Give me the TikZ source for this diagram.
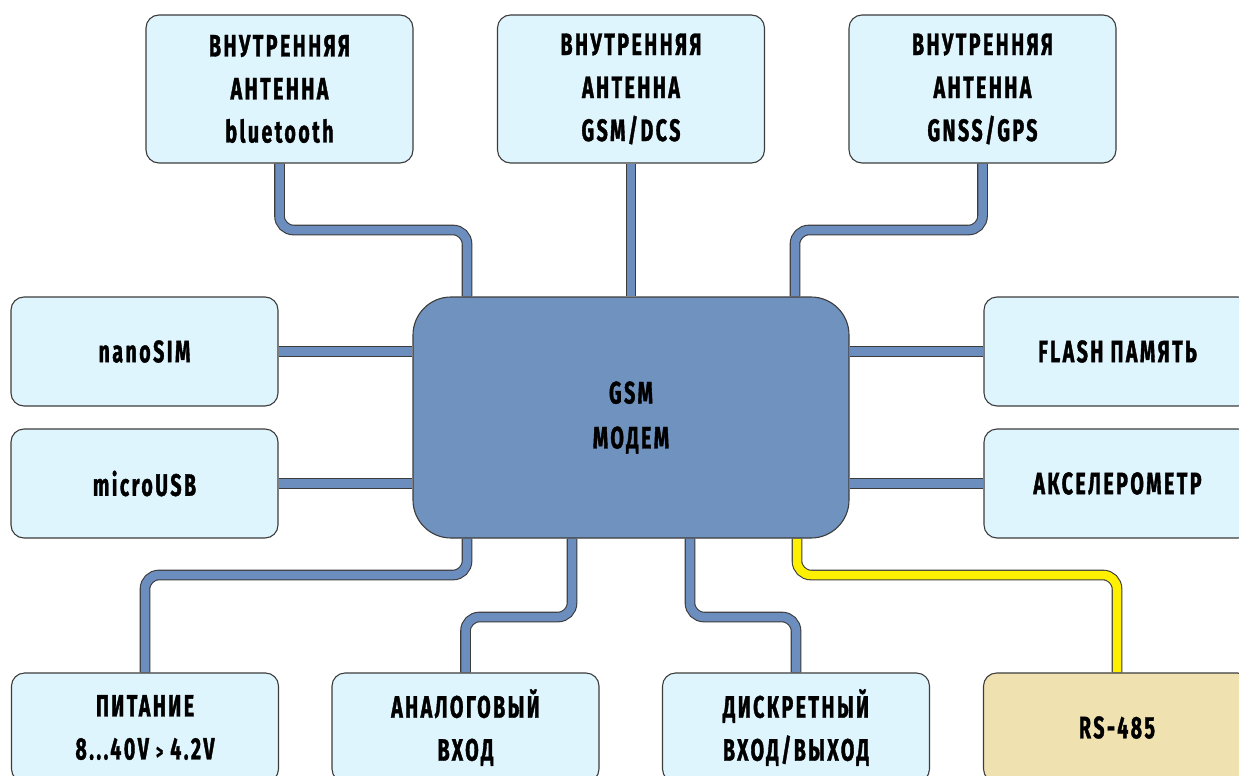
\documentclass[tikz,border=0pt]{standalone}
\usepackage{fontspec}
\newfontfamily\lblfont{Fira Sans}[FakeStretch=0.63,LetterSpace=8,BoldFeatures={FakeBold=1.2}]
\usetikzlibrary{calc}
\pgfdeclarelayer{bg}
\pgfsetlayers{bg,main}
\definecolor{boxfill}{HTML}{DFF5FD}
\definecolor{boxline}{HTML}{3C3C3C}
\definecolor{corefill}{HTML}{7092BE}
\definecolor{connfill}{HTML}{6C8EBF}
\definecolor{busyellow}{HTML}{FFF000}
\definecolor{rsfill}{HTML}{EFE2B0}
\tikzset{
  lbl/.style={font=\lblfont\bfseries\fontsize{31}{43}\selectfont, text=black, align=center},
  box/.style={lbl, draw=boxline, line width=1.1pt, fill=boxfill, rounded corners=13pt,
    minimum width=267pt, inner sep=0pt},
  tallbox/.style={box, minimum height=148pt},
  shortbox/.style={box, minimum height=109pt},
  core/.style={lbl, draw=boxline, line width=1.1pt, fill=corefill, rounded corners=38pt,
    minimum width=436pt, minimum height=241pt, inner sep=0pt},
  conn/.style={draw=boxline, line width=1.1pt, double=connfill, double distance=8.5pt,
    rounded corners=14pt},
  yconn/.style={conn, double=busyellow}
}
\begin{document}
\begin{tikzpicture}[x=1pt,y=-1pt]
\useasboundingbox (0,0) rectangle (1239,776);
\clip (0,0) rectangle (1239,776);
% top row
\node[tallbox] (bt) at (279.5,89) {ВНУТРЕННЯЯ\\АНТЕННА\\bluetooth};
\node[tallbox] (gsmdcs) at (631,89) {ВНУТРЕННЯЯ\\АНТЕННА\\GSM/DCS};
\node[tallbox] (gnss) at (982.5,89) {ВНУТРЕННЯЯ\\АНТЕННА\\GNSS/GPS};
% middle
\node[core] (core) at (631,417.5) {GSM\\[2pt]МОДЕМ};
\node[shortbox] (sim) at (144.5,351.5) {nanoSIM};
\node[shortbox] (usb) at (144.5,483.5) {microUSB};
\node[shortbox] (flash) at (1117.5,351.5) {FLASH ПАМЯТЬ};
\node[shortbox] (acc) at (1117.5,483.5) {АКСЕЛЕРОМЕТР};
% bottom row
\node[shortbox] (pit) at (145,727.5) {ПИТАНИЕ\\8...40V {\fontsize{22}{22}\selectfont>} 4.2V};
\node[shortbox] (an) at (465.5,727.5) {АНАЛОГОВЫЙ\\ВХОД};
\node[shortbox] (dis) at (796,727.5) {ДИСКРЕТНЫЙ\\ВХОД/ВЫХОД};
\node[shortbox, fill=rsfill] (rs) at (1117,727.5) {RS-485};
% bend points
\coordinate (b1) at (467,230);
\coordinate (b2) at (795,230);
\coordinate (b3) at (467,575);
\coordinate (b4) at (572,617);
\coordinate (b5) at (690,617);
\coordinate (b6) at (797,575);
\begin{pgfonlayer}{bg}
\draw[conn] (bt.south) |- (b1) -- (b1 |- core.north);
\draw[conn] (gsmdcs.south) -- (core.north);
\draw[conn] (gnss.south) |- (b2) -- (b2 |- core.north);
\draw[conn] (sim.east) -- (sim.east -| core.west);
\draw[conn] (usb.east) -- (usb.east -| core.west);
\draw[conn] (flash.west) -- (flash.west -| core.east);
\draw[conn] (acc.west) -- (acc.west -| core.east);
\draw[conn] (b3 |- core.south) -- (b3) -| (pit.north);
\draw[conn] (b4 |- core.south) -- (b4) -| (an.north);
\draw[conn] (b5 |- core.south) -- (b5) -| (dis.north);
\draw[yconn] (b6 |- core.south) -- (b6) -| (rs.north);
\end{pgfonlayer}
\end{tikzpicture}
\end{document}
